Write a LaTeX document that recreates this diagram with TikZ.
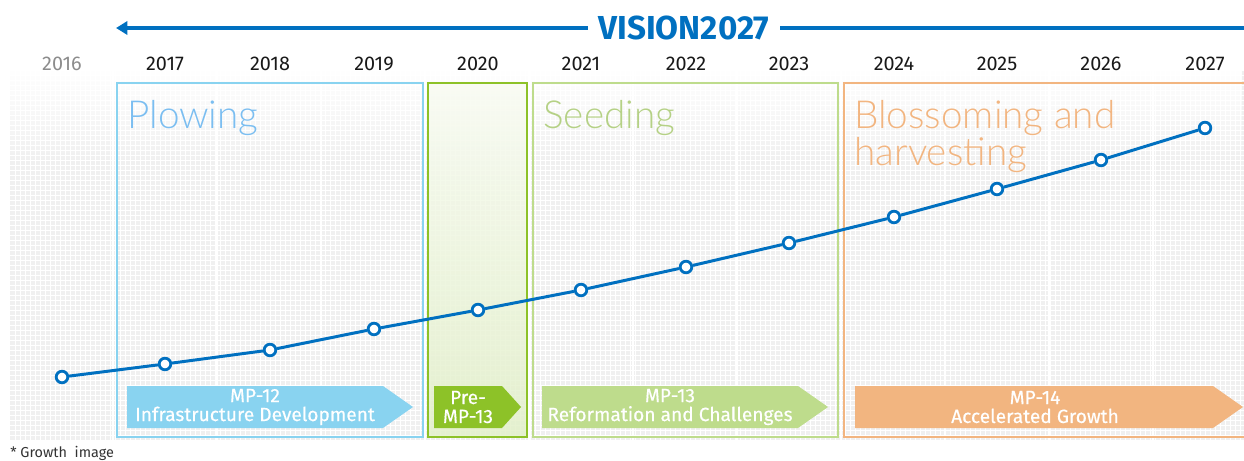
\documentclass[tikz,border=0pt]{standalone}
\usepackage{fontspec}
\setmainfont{Fira Sans}
\newfontfamily\lightfont{Lato Light}
\newfontfamily\mpfont[FakeBold=0.4]{Fira Sans}
\usetikzlibrary{arrows.meta,fadings}
\definecolor{visionblue}{RGB}{0,112,192}
\definecolor{plowblue}{RGB}{137,211,240}
\definecolor{premp}{RGB}{141,194,40}
\definecolor{seedgreen}{RGB}{190,220,140}
\definecolor{bloomorange}{RGB}{242,181,128}
\definecolor{bggray}{RGB}{240,240,240}

\begin{document}
\begin{tikzpicture}[x=0.02cm,y=-0.02cm,
  yearlabel/.style={font=\fontsize{11.3}{13}\selectfont, text=black!90},
  phasebox/.style={line width=1.2pt},
  phasetitle/.style={anchor=base west, inner sep=0pt, align=left, font=\lightfont\fontsize{22}{21}\selectfont},
  mptext/.style={text=white, align=center, inner sep=0pt, font=\mpfont\fontsize{10.9}{10.8}\selectfont},
  growpt/.style={circle, draw=visionblue, fill=white, line width=1.6pt, inner sep=0pt, minimum size=6.6pt},
  growline/.style={visionblue, line width=1.7pt}]
\useasboundingbox (0,0) rectangle (1244,460);

% background
\fill[bggray] (10,70) rectangle (1244,440);
\draw[white, line width=0.35pt, step=0.1cm] (10,70) grid (1244,440);
\fill[white, path fading=south] (10,69) rectangle (1244,165);
\draw[white, line width=1.5pt] (113,70) -- (113,440) (217,70) -- (217,440) (321,70) -- (321,440) (425,70) -- (425,440)
  (529,70) -- (529,440) (633,70) -- (633,440) (737,70) -- (737,440) (841,70) -- (841,440)
  (945,70) -- (945,440) (1049,70) -- (1049,440) (1153,70) -- (1153,440);

% vision arrow
\node[font=\bfseries\fontsize{18.9}{20}\selectfont, text=visionblue, inner xsep=6pt] (vision) at (684,28) {VISION2027};
\coordinate (vtip) at (116,28);
\coordinate (vend) at (1244,28);
\draw[visionblue, line width=2.8pt, -{Triangle[length=6.5pt,width=7.5pt]}] (vision.west) -- (vtip);
\draw[visionblue, line width=2.8pt] (vision.east) -- (vend);

% years
\node[yearlabel, text=black!45] (y2016) at (62,64) {2016};
\node[yearlabel] (y2017) at (165,64) {2017};
\node[yearlabel] (y2018) at (270,64) {2018};
\node[yearlabel] (y2019) at (374,64) {2019};
\node[yearlabel] (y2020) at (478,64) {2020};
\node[yearlabel] (y2021) at (581,64) {2021};
\node[yearlabel] (y2022) at (686,64) {2022};
\node[yearlabel] (y2023) at (789,64) {2023};
\node[yearlabel] (y2024) at (894,64) {2024};
\node[yearlabel] (y2025) at (997,64) {2025};
\node[yearlabel] (y2026) at (1101,64) {2026};
\node[yearlabel] (y2027) at (1205,64) {2027};

% phases
\draw[phasebox, plowblue] (117,83) rectangle (423,437);
\shade[top color=premp!6!white, bottom color=premp!25!white, opacity=0.85] (428,83) rectangle (527,437);
\draw[phasebox, premp] (428,83) rectangle (527,437);
\draw[phasebox, seedgreen] (533,83) rectangle (838,437);
\draw[phasebox, bloomorange] (1250,83) -- (844,83) -- (844,437) -- (1250,437);
\node[phasetitle, text=plowblue!90!blue] (plow) at (127,128) {Plowing};
\node[phasetitle, text=seedgreen!95!black] (seed) at (543,128) {Seeding};
\node[phasetitle, text=bloomorange] (bloom) at (854,165) {Blossoming and\\harvesting};

% master plans
\fill[plowblue] (127,386) -- (383,386) -- (413,407) -- (383,428) -- (127,428) -- cycle;
\node[mptext] (mp12) at (255,407) {MP-12\\Infrastructure Development};
\fill[premp] (434,386) -- (502,386) -- (521,407) -- (502,428) -- (434,428) -- cycle;
\node[mptext] (pre13) at (468,407) {Pre-\\MP-13};
\fill[seedgreen] (542,386) -- (798,386) -- (828,407) -- (798,428) -- (542,428) -- cycle;
\node[mptext] (mp13) at (670,407) {MP-13\\Reformation and Challenges};
\fill[bloomorange] (855,386) -- (1213,386) -- (1243,407) -- (1213,428) -- (855,428) -- cycle;
\node[mptext] (mp14) at (1035,407) {MP-14\\Accelerated Growth};

% growth line
\node[growpt] (g0) at (62,377) {};
\node[growpt] (g1) at (165,364) {};
\node[growpt] (g2) at (270,350) {};
\node[growpt] (g3) at (374,329) {};
\node[growpt] (g4) at (478,310) {};
\node[growpt] (g5) at (581,290) {};
\node[growpt] (g6) at (686,267) {};
\node[growpt] (g7) at (789,243) {};
\node[growpt] (g8) at (894,217) {};
\node[growpt] (g9) at (997,189) {};
\node[growpt] (g10) at (1101,160) {};
\node[growpt] (g11) at (1205,128) {};
\draw[growline] (g0) -- (g1) -- (g2) -- (g3) -- (g4) -- (g5) -- (g6) -- (g7) -- (g8) -- (g9) -- (g10) -- (g11);

\node[anchor=base west, inner sep=0pt, font=\fontsize{8.2}{9}\selectfont, text=black!80] (note) at (10,457) {* Growth~ image};
\end{tikzpicture}
\end{document}
